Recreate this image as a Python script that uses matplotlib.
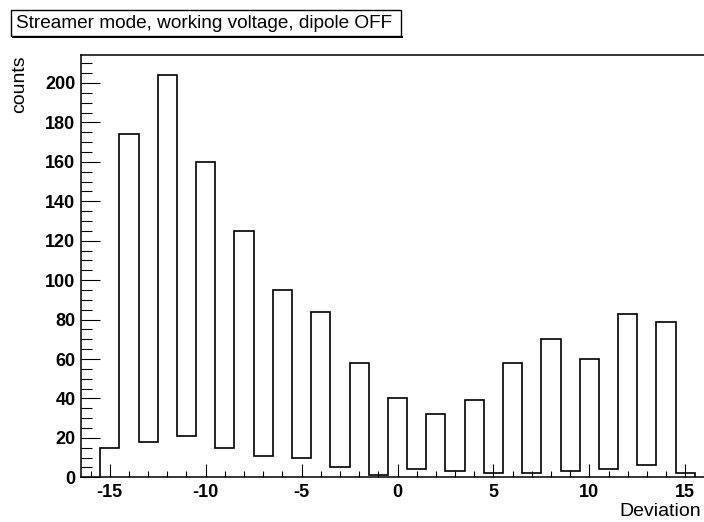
import matplotlib
matplotlib.use("Agg")
import matplotlib.pyplot as plt
from matplotlib.patches import Rectangle
from matplotlib.ticker import MultipleLocator
import numpy as np

# Data
bin_centers = list(range(-15, 16))
counts = [15, 174, 18, 204, 21, 160, 15, 125, 11, 95, 10, 84, 5, 58, 1,
          40, 4, 32, 3, 39, 2, 58, 2, 70, 3, 60, 4, 83, 6, 79, 2]
x_ticks = [-15, -10, -5, 0, 5, 10, 15]
y_ticks = [0, 20, 40, 60, 80, 100, 120, 140, 160, 180, 200]
title = "Streamer mode, working voltage, dipole OFF"
xlabel = "Deviation"
ylabel = "counts"

W, H = 704, 522
plt.rcParams['axes.unicode_minus'] = False
plt.rcParams['font.family'] = ['Liberation Sans', 'DejaVu Sans']
fig = plt.figure(figsize=(W / 100, H / 100), dpi=100)

ax_left, ax_right, ax_top, ax_bottom = 81, 714, 55, 477.3
ax = fig.add_axes([ax_left / W, (H - ax_bottom) / H,
                   (ax_right - ax_left) / W, (ax_bottom - ax_top) / H])

edges = np.array(bin_centers, dtype=float) - 0.5
edges = np.append(edges, bin_centers[-1] + 0.5)
ax.stairs(counts, edges, baseline=0, color='black', lw=1.2)

ax.set_xlim(-16.5, 16.5)
ax.set_ylim(0, 214.2)
ax.set_xticks(x_ticks)
ax.set_yticks(y_ticks)
ax.xaxis.set_minor_locator(MultipleLocator(1))
ax.yaxis.set_minor_locator(MultipleLocator(5))
ax.tick_params(axis='x', which='major', direction='in', length=9.1, width=0.8,
               labelsize=13, pad=5, top=False)
ax.tick_params(axis='x', which='minor', direction='in', length=4.6, width=0.8, top=False)
ax.tick_params(axis='y', which='major', direction='in', length=13.9, width=0.8,
               labelsize=13, pad=4, right=False)
ax.tick_params(axis='y', which='minor', direction='in', length=7.7, width=0.8, right=False)
for lab in ax.get_xticklabels() + ax.get_yticklabels():
    lab.set_fontweight('bold')
for s in ax.spines.values():
    s.set_linewidth(1.1)

# Axis titles
fig.text(701 / W, 1 - 512 / H, xlabel, ha='right', va='center', fontsize=14)
fig.text(20 / W, 1 - 55 / H, ylabel, ha='center', va='top', rotation=90, fontsize=14)

# Title box
bx0, bx1, by0, by1 = 11, 401, 10, 36
fig.patches.append(Rectangle((bx0 / W, 1 - by1 / H), (bx1 - bx0) / W, (by1 - by0) / H,
                             transform=fig.transFigure, facecolor='white',
                             edgecolor='black', lw=1.0))
fig.patches.append(Rectangle((bx0 / W + 1.5 / W, 1 - (by1 + 1.5) / H), (bx1 - bx0) / W, 1.5 / H,
                             transform=fig.transFigure, facecolor='black', edgecolor='none'))
fig.patches.append(Rectangle((bx1 / W, 1 - (by1 + 1.5) / H), 1.5 / W, (by1 - by0) / H,
                             transform=fig.transFigure, facecolor='black', edgecolor='none'))
fig.text(16 / W, 1 - 23 / H, title, ha='left', va='center', fontsize=13.7)

fig.savefig("out.png", dpi=100)
